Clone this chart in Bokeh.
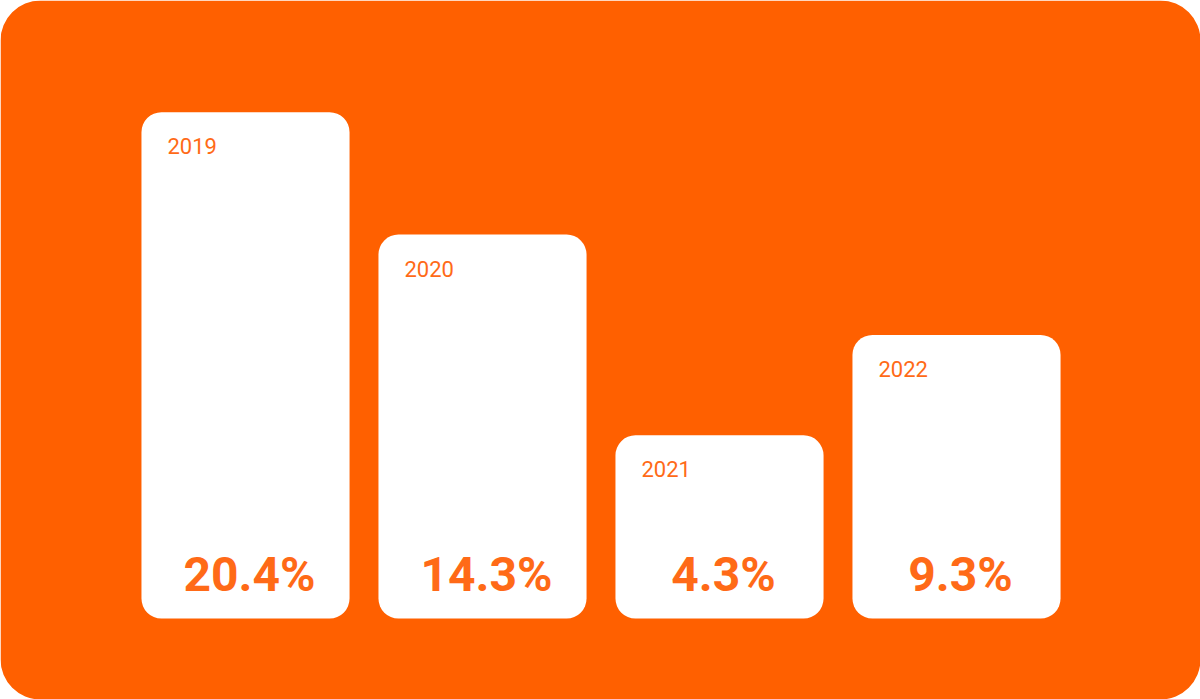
from bokeh.plotting import figure
from bokeh.models import ColumnDataSource, Range1d
from bokeh.core.properties import value
from bokeh.embed import file_html
from bokeh.resources import INLINE

years = ["2019", "2020", "2021", "2022"]
growth = [20.4, 14.3, 4.3, 9.3]
labels = ["20.4%", "14.3%", "4.3%", "9.3%"]

ORANGE = "#FF6000"
TEXT = "#FF6A17"
BASE = 4.83  # bars start below zero so small values still show their labels

X0, X1 = -1.0338, 4.0295
Y0, Y1 = -8.864, 25.964

src = ColumnDataSource(dict(
    x=list(range(len(years))),
    top=growth,
    year=years,
    label=labels,
    bottom=[-BASE] * len(years),
))

p = figure(width=1200, height=699, output_backend="svg", toolbar_location=None,
           x_range=Range1d(X0, X1), y_range=Range1d(Y0, Y1),
           min_border=0)
p.axis.visible = False
p.grid.visible = False
p.outline_line_color = None
p.background_fill_color = "white"
p.border_fill_color = "white"

# rounded orange card
p.quad(left=X0, right=X1, bottom=Y0, top=Y1,
       fill_color=ORANGE, line_color=None, border_radius=40)

p.vbar(x="x", top="top", bottom=-BASE, width=0.878, source=src,
       fill_color="white", line_color=None, border_radius=20)

p.text(x="x", y="top", text="year", source=src, x_offset=-78, y_offset=26,
       text_font=value("Roboto"), text_font_size="22px", text_color=TEXT,
       text_align="left", text_baseline="top")

p.text(x="x", y="bottom", text="label", source=src, x_offset=4, y_offset=-44,
       text_font=value("Roboto"), text_font_size="48px", text_font_style="bold",
       text_color=TEXT, text_align="center", text_baseline="alphabetic")

open("out.html", "w").write(file_html(p, INLINE))
